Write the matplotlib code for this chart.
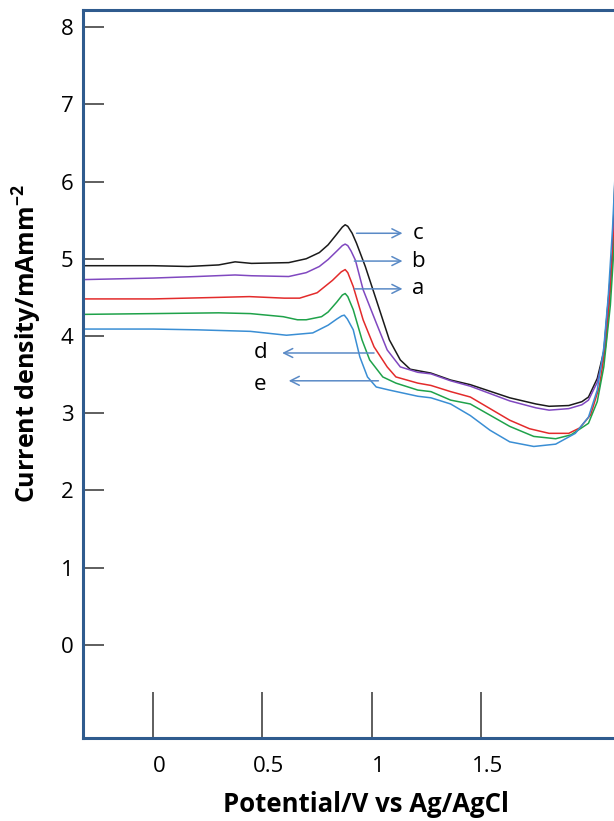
import numpy as np
import matplotlib
matplotlib.use("Agg")
import matplotlib.pyplot as plt
from matplotlib.transforms import ScaledTranslation

plt.rcParams['font.family'] = ['Open Sans', 'DejaVu Sans']
plt.rcParams['mathtext.fontset'] = 'custom'
plt.rcParams['mathtext.rm'] = 'Open Sans'
plt.rcParams['mathtext.bf'] = 'Open Sans:bold'

# curve c (black)
x_c = [-0.32, 0.0, 0.16, 0.30, 0.375, 0.45, 0.62, 0.70, 0.76, 0.80, 0.84, 0.865, 0.878, 0.89, 0.91,
       0.93, 0.97, 1.02, 1.08, 1.13, 1.175, 1.27, 1.36, 1.45, 1.63, 1.75, 1.81, 1.90, 1.96, 1.99,
       2.03, 2.06, 2.08, 2.10, 2.11, 2.125]
y_c = [4.91, 4.91, 4.90, 4.92, 4.96, 4.94, 4.95, 5.00, 5.08, 5.18, 5.32, 5.41, 5.44, 5.42, 5.33,
       5.20, 4.90, 4.47, 3.95, 3.69, 3.57, 3.52, 3.43, 3.37, 3.20, 3.12, 3.09, 3.10, 3.15, 3.21,
       3.45, 3.80, 4.45, 5.10, 5.95, 7.5]

# curve b (purple)
x_b = [-0.32, 0.0, 0.2, 0.375, 0.45, 0.62, 0.70, 0.76, 0.80, 0.84, 0.865, 0.878, 0.89, 0.905,
       0.925, 0.96, 1.02, 1.07, 1.13, 1.21, 1.27, 1.36, 1.45, 1.63, 1.75, 1.81, 1.90, 1.96, 1.99,
       2.03, 2.06, 2.08, 2.10, 2.115, 2.13]
y_b = [4.73, 4.75, 4.77, 4.79, 4.78, 4.77, 4.82, 4.90, 4.99, 5.10, 5.17, 5.19, 5.17, 5.10,
       4.98, 4.60, 4.17, 3.82, 3.60, 3.53, 3.51, 3.42, 3.35, 3.16, 3.07, 3.04, 3.06, 3.11, 3.17,
       3.40, 3.75, 4.35, 5.05, 6.0, 7.5]

# curve a (red)
x_a = [-0.32, 0.0, 0.3, 0.44, 0.60, 0.67, 0.75, 0.82, 0.86, 0.878, 0.89, 0.915, 0.96, 1.01, 1.07,
       1.11, 1.21, 1.27, 1.36, 1.45, 1.63, 1.72, 1.81, 1.90, 1.95, 2.0, 2.04, 2.07, 2.09, 2.11,
       2.125, 2.14]
y_a = [4.48, 4.48, 4.50, 4.51, 4.49, 4.49, 4.56, 4.72, 4.83, 4.86, 4.82, 4.64, 4.21, 3.86, 3.60,
       3.47, 3.39, 3.36, 3.28, 3.21, 2.91, 2.80, 2.74, 2.74, 2.81, 2.98, 3.35, 3.90, 4.60, 5.50,
       6.50, 7.5]

# curve d (green)
x_d = [-0.32, 0.0, 0.3, 0.445, 0.595, 0.66, 0.70, 0.77, 0.80, 0.84, 0.865, 0.878, 0.89, 0.915,
       0.955, 0.99, 1.05, 1.11, 1.21, 1.27, 1.36, 1.45, 1.63, 1.74, 1.84, 1.91, 1.99, 2.03, 2.06,
       2.09, 2.11, 2.125, 2.14]
y_d = [4.28, 4.29, 4.30, 4.29, 4.25, 4.21, 4.21, 4.25, 4.31, 4.44, 4.53, 4.55, 4.51, 4.34,
       3.95, 3.69, 3.47, 3.39, 3.30, 3.28, 3.17, 3.12, 2.83, 2.70, 2.67, 2.72, 2.87, 3.15, 3.60,
       4.40, 5.30, 6.30, 7.5]

# curve e (blue)
x_e = [-0.32, 0.0, 0.2, 0.445, 0.61, 0.73, 0.80, 0.84, 0.862, 0.874, 0.888, 0.915, 0.945, 0.98,
       1.02, 1.08, 1.21, 1.27, 1.36, 1.45, 1.54, 1.63, 1.74, 1.84, 1.93, 1.99, 2.03, 2.06, 2.08,
       2.10, 2.115, 2.13]
y_e = [4.09, 4.09, 4.08, 4.06, 4.01, 4.04, 4.14, 4.22, 4.26, 4.27, 4.22, 4.08, 3.73, 3.47,
       3.34, 3.30, 3.22, 3.20, 3.12, 2.97, 2.78, 2.63, 2.57, 2.60, 2.74, 2.95, 3.30, 3.85, 4.50,
       5.40, 6.30, 7.5]

# arrows and their letters
labels = ['c', 'b', 'a', 'd', 'e']
arrow_x0 = [0.93, 0.92, 0.92, 1.01, 1.03]
arrow_x1 = [1.14, 1.14, 1.14, 0.59, 0.62]
arrow_y = [5.33, 4.97, 4.61, 3.78, 3.42]
label_x = [1.21, 1.21, 1.21, 0.49, 0.49]
label_y = [5.33, 4.97, 4.61, 3.78, 3.37]

xticks = [0, 0.5, 1, 1.5]
yticks = [0, 1, 2, 3, 4, 5, 6, 7, 8]

fig = plt.figure(figsize=(6.14, 8.21), dpi=100)
ax = fig.add_axes([0.1352, 0.1011, 1.005, 0.8867])

ax.plot(x_c, y_c, color='#1a1a1a', lw=1.1)
ax.plot(x_b, y_b, color='#8048c0', lw=1.1)
ax.plot(x_a, y_a, color='#e32b2b', lw=1.1)
ax.plot(x_d, y_d, color='#1fa24a', lw=1.1)
ax.plot(x_e, y_e, color='#3a8ed4', lw=1.1)

for i in range(len(labels)):
    ax.annotate('', xy=(arrow_x1[i], arrow_y[i]), xytext=(arrow_x0[i], arrow_y[i]),
                arrowprops=dict(arrowstyle='->', color='#5a8ac6', lw=1.1,
                                mutation_scale=16, shrinkA=0, shrinkB=0))
    ax.text(label_x[i], label_y[i], labels[i], fontsize=16, ha='center', va='center')

ax.set_xlim(-0.32, 2.50)
ax.set_ylim(-1.204, 8.22)

ax.set_xticks(xticks)
ax.set_xticklabels(['0', '0.5', '1', '1.5'])
ax.set_yticks(yticks)
ax.tick_params(axis='x', direction='in', length=33, width=1.1, color='#333333',
               labelsize=16, pad=13)
ax.tick_params(axis='y', direction='in', length=15, width=1.1, color='#333333',
               labelsize=16, pad=7)
offset = ScaledTranslation(4.5 / 72, 0, fig.dpi_scale_trans)
for lab in ax.get_xticklabels():
    lab.set_transform(lab.get_transform() + offset)

for side in ['left', 'bottom', 'top']:
    ax.spines[side].set_color('#2f5b8e')
    ax.spines[side].set_linewidth(2.2)
ax.spines['right'].set_visible(False)

fig.text(0.596, 0.0113, 'Potential/V vs Ag/AgCl', fontsize=18.5, fontweight='bold',
         ha='center', va='baseline')
fig.text(0.044, 0.581, r'Current density/mAmm$^{\mathbf{-2}}$', fontsize=18,
         fontweight='bold', rotation=90, ha='center', va='center')

fig.savefig('out.png', dpi=100)
